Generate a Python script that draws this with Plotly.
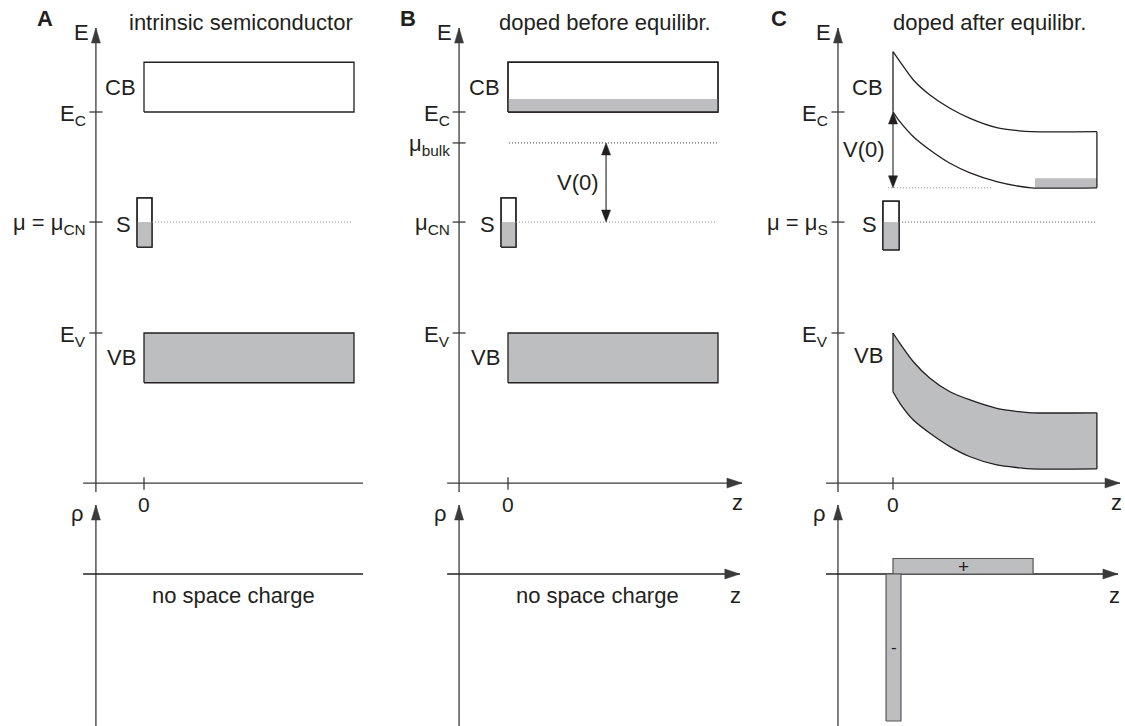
import plotly.graph_objects as go

# ------------------------------------------------------------------ data
# energies in units of the band gap (E_V = 0, E_C = 1); z in units of the bulk slab length
PANELS = ["A", "B", "C"]
TITLES = ["intrinsic semiconductor", "doped before equilibr.", "doped after equilibr."]

E_C = 1.0
E_V = 0.0
BAND_WIDTH = 0.225
MU_CN = 0.502          # charge neutrality level of surface states
MU_BULK = 0.86         # bulk chemical potential before equilibration (B)
S_BAND_AB = [0.389, 0.611]     # surface-state band (bottom, top) in A and B
S_BAND_C = [0.376, 0.597]
S_Z_AB = [-0.033, 0.038]
S_Z_C = [-0.048, 0.029]
CB_FILL_TOP_B = 1.059  # occupied CB states in B
Z_END = 1.0

# panel C: band bending
C_Z = [0.0, 0.033, 0.097, 0.176, 0.271, 0.367, 0.494, 0.60, 0.66, 0.971]
C_CB_TOP = [1.273, 1.228, 1.145, 1.077, 1.017, 0.971, 0.929, 0.915, 0.911, 0.911]
C_CB_BOT = [1.001, 0.956, 0.888, 0.828, 0.768, 0.725, 0.685, 0.664, 0.657, 0.657]
C_VB_TOP = [0.0, -0.047, -0.130, -0.205, -0.266, -0.303, -0.341, -0.356, -0.361, -0.361]
C_VB_BOT = [-0.266, -0.318, -0.394, -0.454, -0.514, -0.560, -0.597, -0.610, -0.615, -0.615]
C_CB_FILL = [0.676, 0.971, 0.70]   # z0, z1, top of occupied states
C_V0 = [1.0, 0.657]                # band edge at surface / in bulk

# space charge density in panel C (arbitrary units)
RHO_PLUS = [0.0, 0.667, 0.155]     # z0, z1, rho
RHO_MINUS = [-0.033, 0.038, -1.47]

# ------------------------------------------------------------------ style / geometry
INK = "#231f20"
AXC = "#3a3a3a"
GRAY = "#bcbec0"
FONT = "Liberation Sans, Arial, Helvetica, sans-serif"
FS = 22
W, H = 1125, 726
ORIGIN_PX = [144, 508, 893]
PX_PER_Z = 210.0
E_AXIS_Z = [-0.229, -0.233, -0.262]
Z_AXIS_SPAN = [[-0.29, 1.043], [-0.29, 1.114], [-0.319, 1.081]]
ARROWED = [False, True, True]
Z_AXIS_E = -0.679
E_AXIS_TOP, E_AXIS_BOTTOM = 1.38, -0.72
RHO_AXIS_TOP, RHO_AXIS_BOTTOM = 0.69, -1.52
UP_RANGE = [(333 - 500) / 221.0, 333 / 221.0]
LOW_RANGE = [(574 - 726) / 100.0, (574 - 500) / 100.0]
DOT = "1px,2px"

fig = go.Figure()
shapes = []
annotations = []


def refs(col, row):
    xa = "x" if col == 0 else f"x{col + 1}"
    idx = col + 1 + 3 * row
    ya = "y" if idx == 1 else f"y{idx}"
    return xa, ya


def line(col, row, xs, ys, color=INK, width=1.3, dash="solid", shape="linear", fill=None, fillcolor=None):
    xa, ya = refs(col, row)
    fig.add_trace(go.Scatter(x=xs, y=ys, xaxis=xa, yaxis=ya, mode="lines",
                             line=dict(color=color, width=width, dash=dash, shape=shape, smoothing=0.8),
                             fill=fill, fillcolor=fillcolor, hoverinfo="skip", showlegend=False))


def rect(col, row, x0, x1, y0, y1, fillcolor="white", color=INK, width=1.3):
    line(col, row, [x0, x1, x1, x0, x0], [y0, y0, y1, y1, y0], color=color, width=width,
         fill="toself", fillcolor=fillcolor)


def head(col, row, x, y, direction, length=15, wid=9, color=INK):
    xa, ya = refs(col, row)
    h = wid / 2.0
    if direction == "up":
        path = f"M0,0 L{-h},{-length} L{h},{-length} Z"
    elif direction == "down":
        path = f"M0,0 L{-h},{length} L{h},{length} Z"
    else:
        path = f"M0,0 L{-length},{h} L{-length},{-h} Z"
    shapes.append(dict(type="path", xref=xa, yref=ya, xsizemode="pixel", ysizemode="pixel",
                       xanchor=x, yanchor=y, path=path, fillcolor=color, line=dict(color=color, width=0.5)))


def text(col, row, x, y, s, size=FS, xanchor="center", yanchor="middle", xshift=0, yshift=0, color=INK):
    xa, ya = refs(col, row)
    annotations.append(dict(x=x, y=y, xref=xa, yref=ya, text=s, showarrow=False, xanchor=xanchor,
                            yanchor=yanchor, xshift=xshift, yshift=yshift,
                            font=dict(family=FONT, size=size, color=color)))


TICK_Z = 0.031
for c in range(3):
    ez = E_AXIS_Z[c]
    z0, z1 = Z_AXIS_SPAN[c]
    # ---------- axes (upper)
    line(c, 0, [ez, ez], [E_AXIS_BOTTOM, E_AXIS_TOP], color=AXC)
    head(c, 0, ez, E_AXIS_TOP, "up", 15, 9, AXC)
    text(c, 0, ez, E_AXIS_TOP, "E", xanchor="right", xshift=-5, yshift=-4)
    line(c, 0, [z0, z1], [Z_AXIS_E, Z_AXIS_E], color=AXC)
    if ARROWED[c]:
        head(c, 0, z1, Z_AXIS_E, "right", 15, 10, AXC)
        text(c, 0, z1, Z_AXIS_E, "z", xshift=-4, yshift=-19)
    line(c, 0, [0, 0], [Z_AXIS_E + 0.026, Z_AXIS_E - 0.03], color=AXC)
    text(c, 0, 0, Z_AXIS_E, "0", size=FS - 1, yshift=-21)
    text(c, 0, ez, 1.425, f"<b>{PANELS[c]}</b>", xshift=-51 - (8 if c == 2 else 0))
    text(c, 0, 0.46, 1.407, TITLES[c])
    # ---------- axes (lower)
    line(c, 1, [ez, ez], [RHO_AXIS_BOTTOM, RHO_AXIS_TOP], color=AXC)
    head(c, 1, ez, RHO_AXIS_TOP, "up", 15, 9, AXC)
    text(c, 1, ez, RHO_AXIS_TOP, "ρ", xanchor="right", xshift=-10, yshift=-8)
    if ARROWED[c]:
        head(c, 1, z1 - 0.01, 0, "right", 15, 10, AXC)
        text(c, 1, z1, 0, "z", xshift=-6, yshift=-21)

    def etick(level, label, yshift=0):
        line(c, 0, [ez - TICK_Z, ez + TICK_Z], [level, level], color=AXC)
        text(c, 0, ez - TICK_Z, level, label, xanchor="right", xshift=-1, yshift=yshift)

    etick(E_C, "E<sub>C</sub>", -3)
    etick(E_V, "E<sub>V</sub>", -3)

    if c < 2:
        # flat bands
        rect(c, 0, 0, Z_END, E_C, E_C + BAND_WIDTH, "white")
        if c == 1:
            rect(c, 0, 0, Z_END, E_C, CB_FILL_TOP_B, GRAY, color=GRAY, width=0)
            rect(c, 0, 0, Z_END, E_C, E_C + BAND_WIDTH, "rgba(0,0,0,0)")
        rect(c, 0, 0, Z_END, E_V - BAND_WIDTH, E_V, GRAY)
        # surface states
        rect(c, 0, S_Z_AB[0], S_Z_AB[1], S_BAND_AB[0], S_BAND_AB[1], "white")
        rect(c, 0, S_Z_AB[0], S_Z_AB[1], S_BAND_AB[0], MU_CN, GRAY, color=GRAY, width=0)
        rect(c, 0, S_Z_AB[0], S_Z_AB[1], S_BAND_AB[0], S_BAND_AB[1], "rgba(0,0,0,0)")
        line(c, 0, [S_Z_AB[1], 0.986], [MU_CN, MU_CN], color="#8a8a8a", width=1, dash=DOT)
        if c == 0:
            etick(MU_CN, "μ = μ<sub>CN</sub>", -2)
            line(c, 1, [z0, z1], [0, 0], color=INK)
        else:
            etick(MU_CN, "μ<sub>CN</sub>", -2)
            etick(MU_BULK, "μ<sub>bulk</sub>", -2)
            line(c, 1, [z0, z1 - 0.01], [0, 0], color=INK)
            line(c, 0, [0.005, 0.995], [MU_BULK, MU_BULK], color="#333", width=1, dash=DOT)
            zv = 0.467
            line(c, 0, [zv, zv], [MU_CN + 0.03, MU_BULK - 0.03], color="#444", width=1.3)
            head(c, 0, zv, MU_BULK, "up", 12, 9)
            head(c, 0, zv, MU_CN, "down", 12, 9)
            text(c, 0, zv, (MU_BULK + MU_CN) / 2, "V(0)", xanchor="right", xshift=-5)
        text(c, 0, 0, E_C + BAND_WIDTH / 2, "CB", xanchor="right", xshift=-6)
        text(c, 0, 0, E_V - BAND_WIDTH / 2, "VB", xanchor="right", xshift=-6)
        text(c, 0, S_Z_AB[0], MU_CN, "S", xanchor="right", xshift=-4, yshift=-2)
        text(c, 1, 0.424, 0, "no space charge", yshift=-21)
    else:
        # bent bands
        zend = C_Z[-1]
        rect(c, 0, C_CB_FILL[0], C_CB_FILL[1], C_V0[1], C_CB_FILL[2], GRAY, color=GRAY, width=0)
        line(c, 0, C_Z, C_CB_TOP, shape="spline")
        line(c, 0, C_Z, C_CB_BOT, shape="spline")
        line(c, 0, [0, 0], [C_CB_BOT[0], C_CB_TOP[0]])
        line(c, 0, [zend, zend], [C_CB_BOT[-1], C_CB_TOP[-1]])
        line(c, 0, C_Z, C_VB_BOT, shape="spline", width=0)
        line(c, 0, C_Z, C_VB_TOP, shape="spline", width=0, fill="tonexty", fillcolor=GRAY)
        line(c, 0, C_Z, C_VB_TOP, shape="spline")
        line(c, 0, C_Z, C_VB_BOT, shape="spline")
        line(c, 0, [0, 0], [C_VB_BOT[0], C_VB_TOP[0]])
        line(c, 0, [zend, zend], [C_VB_BOT[-1], C_VB_TOP[-1]])
        # V(0)
        line(c, 0, [-0.024, 0.476], [C_V0[1], C_V0[1]], color="#8a8a8a", width=1, dash=DOT)
        line(c, 0, [0, 0], [C_V0[1] + 0.03, C_V0[0] - 0.03], color="#444", width=1.3)
        head(c, 0, 0, C_V0[0], "up", 12, 9)
        head(c, 0, 0, C_V0[1], "down", 12, 9)
        text(c, 0, 0, (C_V0[0] + C_V0[1]) / 2, "V(0)", xanchor="right", xshift=-6)
        # surface states
        rect(c, 0, S_Z_C[0], S_Z_C[1], S_BAND_C[0], S_BAND_C[1], "white")
        rect(c, 0, S_Z_C[0], S_Z_C[1], S_BAND_C[0], MU_CN, GRAY, color=GRAY, width=0)
        rect(c, 0, S_Z_C[0], S_Z_C[1], S_BAND_C[0], S_BAND_C[1], "rgba(0,0,0,0)")
        line(c, 0, [S_Z_C[1], zend], [MU_CN, MU_CN], color="#555", width=1, dash=DOT)
        etick(MU_CN, "μ = μ<sub>S</sub>", -2)
        text(c, 0, 0, E_C + 0.113, "CB", xanchor="right", xshift=-8)
        text(c, 0, 0, E_V - 0.104, "VB", xanchor="right", xshift=-8)
        text(c, 0, S_Z_C[0], MU_CN, "S", xanchor="right", xshift=-4, yshift=-2)
        # space charge
        line(c, 1, [z0, z1 - 0.01], [0, 0], color=INK)
        rect(c, 1, RHO_PLUS[0], RHO_PLUS[1], 0, RHO_PLUS[2], GRAY, color="#555", width=1.2)
        rect(c, 1, RHO_MINUS[0], RHO_MINUS[1], RHO_MINUS[2], 0, GRAY, color="#555", width=1.2)
        text(c, 1, (RHO_PLUS[0] + RHO_PLUS[1]) / 2, RHO_PLUS[2] / 2, "+", size=19)
        text(c, 1, (RHO_MINUS[0] + RHO_MINUS[1]) / 2, RHO_MINUS[2] / 2, "-", size=17)

layout = dict(width=W, height=H, margin=dict(l=0, r=0, t=0, b=0),
              paper_bgcolor="white", plot_bgcolor="white", showlegend=False,
              shapes=shapes, annotations=annotations)
for c in range(3):
    suffix = "" if c == 0 else str(c + 1)
    lo = (375 * c - ORIGIN_PX[c]) / PX_PER_Z
    hi = (375 * (c + 1) - ORIGIN_PX[c]) / PX_PER_Z
    xa, ya_up = refs(c, 0)
    _, ya_lo = refs(c, 1)
    layout["xaxis" + suffix] = dict(domain=[c / 3, (c + 1) / 3], range=[lo, hi], visible=False,
                                    fixedrange=True, anchor=ya_up)
    layout["yaxis" + ya_up[1:]] = dict(domain=[1 - 500 / 726, 1], range=UP_RANGE, visible=False,
                                       fixedrange=True, anchor=xa)
    layout["yaxis" + ya_lo[1:]] = dict(domain=[0, 226 / 726], range=LOW_RANGE, visible=False,
                                       fixedrange=True, anchor=xa)
fig.update_layout(**layout)
fig.write_html("out.html", config={"displayModeBar": False},
               post_script="document.body.style.margin='0';document.body.style.overflow='hidden';")
